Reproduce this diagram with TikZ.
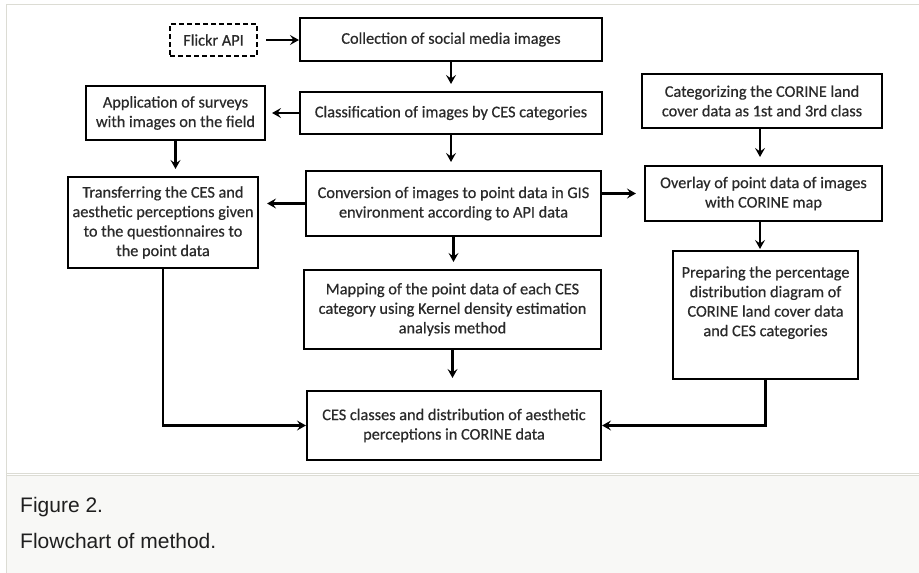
\documentclass[tikz,border=0pt]{standalone}
\usepackage{fontspec}
\setmainfont{Carlito}
\newfontfamily\boxfont[FakeBold=0.5]{Carlito}
\newfontfamily\capfont{Liberation Sans}
\usetikzlibrary{arrows.meta}
\definecolor{frameline}{HTML}{DCDCD4}
\definecolor{capbg}{HTML}{F8F8F6}
\definecolor{boxtext}{HTML}{2A2A2A}
\tikzset{
  box/.style={draw=black, line width=2.1pt, align=center, inner sep=0pt,
    text=boxtext, font=\boxfont\fontsize{16.3}{19.5}\selectfont},
  dbox/.style={box, dashed, dash pattern=on 5pt off 3pt},
  arr/.style={line width=2.1pt, -{Stealth[length=9pt,width=10pt,inset=3.5pt]}},
  capt/.style={anchor=base west, inner sep=0pt, font=\capfont\fontsize{21}{25}\selectfont, text=black!88}
}
\begin{document}
\begin{tikzpicture}[x=1pt,y=-1pt]
\useasboundingbox (0,0) rectangle (919,573);
\fill[white] (0,0) rectangle (919,573);
\fill[capbg] (6,475) rectangle (919,573);
\draw[frameline, line width=1pt] (919,4) -- (6,4) -- (6,573);
\draw[frameline, line width=0.8pt] (6,473) -- (919,473);
\draw[frameline, line width=0.8pt] (6,475.5) -- (919,475.5);

\node[dbox, minimum width=87pt, minimum height=32pt] (flickr) at (213.5,40) {Flickr API};
\node[box, minimum width=302pt, minimum height=43pt] (coll) at (451,39.5) {Collection of social media images};
\node[box, minimum width=302pt, minimum height=42pt] (class) at (451,113) {Classification of images by CES categories};
\node[box, minimum width=179pt, minimum height=54pt] (appl) at (175.5,113) {Application of surveys\\with images on the field};
\node[box, minimum width=190pt, minimum height=91pt] (trans) at (163,222.5) {Transferring the CES and\\aesthetic perceptions given\\to the questionnaires to\\the point data};
\node[box, minimum width=295pt, minimum height=65pt] (conv) at (453.5,203.5) {Conversion of images to point data in GIS\\environment according to API data};
\node[box, minimum width=240pt, minimum height=54pt] (categ) at (762,101) {Categorizing the CORINE land\\cover data as 1st and 3rd class};
\node[box, minimum width=237pt, minimum height=55pt] (overlay) at (763.5,193.5) {Overlay of point data of images\\with CORINE map};
\node[box, minimum width=185pt, minimum height=128pt] (prep) at (765.5,315) {Preparing the percentage\\distribution diagram of\\CORINE land cover data\\and CES categories\\[8pt]};
\node[box, minimum width=297pt, minimum height=79pt] (mapping) at (452.5,309.5) {Mapping of the point data of each CES\\category using Kernel density estimation\\analysis method};
\node[box, minimum width=294pt, minimum height=69pt] (ces) at (454,425.5) {CES classes and distribution of aesthetic\\perceptions in CORINE data};

\draw[arr, shorten <=8pt] (flickr.east) -- (coll.west |- flickr.east);
\draw[arr, shorten >=7pt] (coll.south) -- (class.north);
\draw[arr, shorten >=6pt] (class.west) -- (appl.east);
\draw[arr, shorten >=8pt] (class.south) -- (conv.north -| class.south);
\draw[arr, shorten >=7pt] (appl.south) -- (trans.north -| appl.south);
\draw[arr, shorten >=8pt] (conv.west) -- (trans.east |- conv.west);
\draw[arr, shorten >=8pt] (conv.east |- overlay.west) -- (overlay.west);
\draw[arr, shorten >=7pt] (conv.south) -- (mapping.north -| conv.south);
\draw[arr, shorten >=12pt] (mapping.south) -- (ces.north -| mapping.south);
\draw[arr, shorten >=8pt] (categ.south -| 760,0) -- (overlay.north -| 760,0);
\draw[arr, shorten >=1pt] (overlay.south -| 760,0) -- (prep.north -| 760,0);
\draw[arr] (trans.south) |- (ces.west);
\draw[arr] (prep.south) |- (ces.east);

\node[capt] (fig) at (20,512) {Figure 2.};
\node[capt] (fct) at (20,548) {Flowchart of method.};
\end{tikzpicture}
\end{document}
